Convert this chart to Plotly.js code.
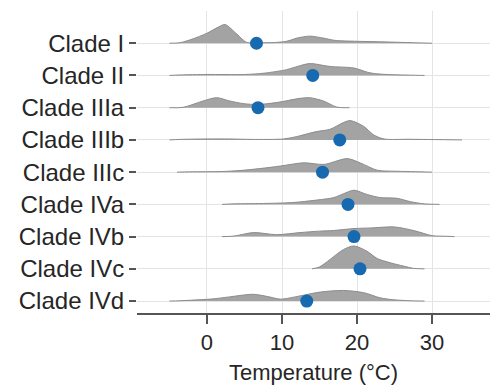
<!DOCTYPE html>
<html>
<head>
<meta charset="utf-8">
<script src="https://cdn.plot.ly/plotly-3.0.1.min.js"></script>
<style>html,body{margin:0;padding:0;background:#fff;}#chart{width:491px;height:390px;}</style>
</head>
<body>
<div id="chart"></div>
<script>
// Clade names (top to bottom)
const clades = ["Clade I","Clade II","Clade IIIa","Clade IIIb","Clade IIIc","Clade IVa","Clade IVb","Clade IVc","Clade IVd"];

// Density curves: temperature knots (°C) and ridge heights (fraction of a row)
const tempI    = [-5,-3.6,-2,0,1.5,2.4,4,5.3,7,9,10.6,12,13.7,15.5,17,20,23,27.5,30];
const densI    = [0,0.016,0.125,0.31,0.5,0.58,0.28,0.025,0.016,0.022,0.06,0.16,0.22,0.16,0.09,0.06,0.045,0.016,0];
const tempII   = [-5,-3.6,0,5,7.6,10.6,12.5,13.7,16.4,19.6,21.4,22.3,24,27,29];
const densII   = [0,0.016,0.03,0.03,0.07,0.18,0.31,0.37,0.28,0.23,0.1,0.06,0.03,0.01,0];
const tempIIIa = [-5,-3.2,-0.5,1.3,3,4.9,6.7,9.3,12.4,13.7,15.5,17.3,19];
const densIIIa = [0,0.01,0.21,0.31,0.21,0.125,0.1,0.16,0.29,0.31,0.21,0.02,0];
const tempIIIb = [-5,-3.6,0,3,6,10.2,11.9,14.6,16.4,18.2,19.1,20.9,22.2,23.6,27,32,34];
const densIIIb = [0,0.016,0.03,0.03,0.016,0.03,0.1,0.26,0.33,0.54,0.6,0.42,0.16,0.03,0.02,0.006,0];
const tempIIIc = [-4,-2.3,2,4.4,7,9.8,12.9,15.6,18.7,20.5,22.7,25,28.5,30];
const densIIIc = [0,0.01,0.02,0.05,0.11,0.19,0.29,0.24,0.42,0.28,0.06,0.03,0.01,0];
const tempIVa  = [2,3.6,8,11.6,14.3,16.9,18.2,19.6,21.3,23.1,25.3,27.1,29,31];
const densIVa  = [0,0.016,0.03,0.06,0.125,0.21,0.33,0.44,0.31,0.21,0.19,0.085,0.016,0];
const tempIVb  = [2,3.6,6.2,9.3,12.4,15,16.9,19.6,22,25,27.7,30,32,33];
const densIVb  = [0,0.016,0.125,0.06,0.125,0.17,0.19,0.25,0.27,0.3,0.18,0.03,0.01,0];
const tempIVc  = [14,15,16.4,18.2,19.6,21.3,22.7,24.4,26.2,27.5,29];
const densIVc  = [0,0.06,0.29,0.6,0.71,0.55,0.32,0.19,0.085,0.016,0];
const tempIVd  = [-5,-3.6,0.9,3,6.2,8.4,9.8,12.4,15.1,18.2,20.9,23.1,24.9,27.1,29];
const densIVd  = [0,0.01,0.07,0.13,0.21,0.125,0.06,0.16,0.28,0.33,0.26,0.1,0.04,0.01,0];

// Mean temperature per clade (blue dots)
const meanTemp = [6.6,14.1,6.8,17.7,15.4,18.8,19.6,20.4,13.3];

const temps = [tempI,tempII,tempIIIa,tempIIIb,tempIIIc,tempIVa,tempIVb,tempIVc,tempIVd];
const dens  = [densI,densII,densIIIa,densIIIb,densIIIc,densIVa,densIVb,densIVc,densIVd];

const n = clades.length;
const rowPos = clades.map((c,i)=> n-1-i);

const traces = [];
clades.forEach((c,i)=>{
  const base = rowPos[i];
  const T = temps[i], D = dens[i];
  traces.push({
    x:[T[0],T[T.length-1]], y:[base,base], mode:'lines',
    line:{width:0,color:'rgba(0,0,0,0)'}, hoverinfo:'skip', showlegend:false
  });
  traces.push({
    x:T, y:D.map(v=>base+v), mode:'lines',
    line:{color:'#8c8c8c',width:1,shape:'spline',smoothing:0.8},
    fill:'tonexty', fillcolor:'#a3a3a3', hoverinfo:'skip', showlegend:false
  });
});
traces.push({
  x:meanTemp, y:rowPos, mode:'markers', type:'scatter',
  marker:{color:'#1769b0',size:13,line:{width:0}}, showlegend:false
});

const fontFam = '"Liberation Sans", Arial, Helvetica, sans-serif';
const layout = {
  width:491, height:390,
  margin:{l:137,r:1,t:11,b:77},
  paper_bgcolor:'#fff', plot_bgcolor:'#fff',
  font:{family:fontFam,color:'#262626'},
  showlegend:false,
  xaxis:{
    range:[-9.33,37.73], tickvals:[0,10,20,30], ticktext:['0','10','20','30'],
    showgrid:true, gridcolor:'#e4e4e4', gridwidth:1, zeroline:false,
    showline:true, linecolor:'#555', linewidth:2,
    ticks:'outside', ticklen:9, tickwidth:2, tickcolor:'#555',
    tickfont:{size:22,color:'#262626'},
    title:{text:'Temperature (°C)', font:{size:22,color:'#262626'}, standoff:10}
  },
  yaxis:{
    range:[-0.37,9.0], tickvals:rowPos, ticktext:clades,
    showgrid:true, gridcolor:'#e4e4e4', gridwidth:1, zeroline:false,
    showline:false, ticks:'outside', ticklen:7, tickwidth:2, tickcolor:'#555',
    tickfont:{size:24,color:'#262626'}
  }
};
Plotly.newPlot('chart', traces, layout, {displayModeBar:false, staticPlot:true});
</script>
</body>
</html>
